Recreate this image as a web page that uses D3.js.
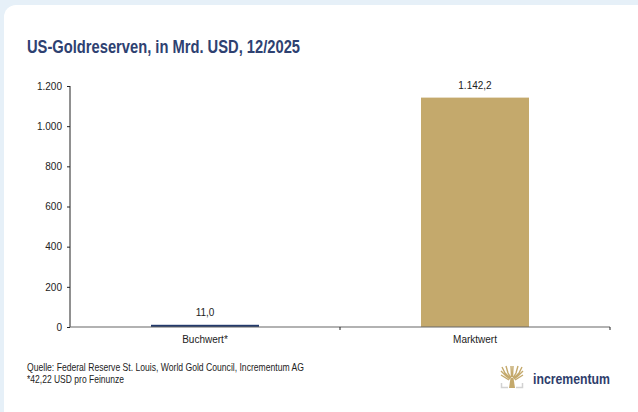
<!DOCTYPE html>
<html lang="en">
<head>
    <meta charset="utf-8">
    <script src="https://d3js.org/d3.v7.min.js"></script>
    <style>
        body { margin: 0; background: #e6f0f8; }
        text { font-family: "Liberation Sans", Arial, sans-serif; }
    </style>
</head>
<body>
    <script>
        // data
        var categories = ["Buchwert*", "Marktwert"];
        var values = [11.0, 1142.2];
        var valueLabels = ["11,0", "1.142,2"];
        var yTicks = [0, 200, 400, 600, 800, 1000, 1200];
        var yTickLabels = ["0", "200", "400", "600", "800", "1.000", "1.200"];
        var barColors = ["#233a6c", "#c4a96c"];

        const width = 638, height = 412;
        const svg = d3.select("body").append("svg")
            .attr("width", width)
            .attr("height", height);

        // white card
        svg.append("rect")
            .attr("x", 4).attr("y", 5)
            .attr("width", 660).attr("height", 430)
            .attr("rx", 12)
            .attr("fill", "#ffffff");

        // title (condensed look via textLength)
        svg.append("text")
            .attr("x", 27).attr("y", 52.5)
            .attr("font-size", 18.5)
            .attr("font-weight", "bold")
            .attr("fill", "#2e4171")
            .attr("textLength", 273)
            .attr("lengthAdjust", "spacingAndGlyphs")
            .text("US-Goldreserven, in Mrd. USD, 12/2025");

        const x = d3.scaleBand().domain(categories).range([70, 610]).paddingInner(0.6).paddingOuter(0.3);
        const y = d3.scaleLinear().domain([0, 1200]).range([327, 86]);

        // bars
        svg.selectAll(".bar")
            .data(values)
            .enter()
            .append("rect")
            .attr("class", "bar")
            .attr("x", function(d, i) { return x(categories[i]); })
            .attr("y", function(d) { return y(d); })
            .attr("width", x.bandwidth())
            .attr("height", function(d) { return y(0) - y(d); })
            .attr("fill", function(d, i) { return barColors[i]; });

        // value labels
        svg.selectAll(".vlab")
            .data(values)
            .enter()
            .append("text")
            .attr("x", function(d, i) { return x(categories[i]) + x.bandwidth() / 2; })
            .attr("y", function(d) { return y(d) - 9; })
            .attr("text-anchor", "middle")
            .attr("font-size", 10)
            .attr("fill", "#222")
            .text(function(d, i) { return valueLabels[i]; });

        // y axis
        const yAxis = svg.append("g")
            .attr("transform", "translate(70,0)")
            .call(d3.axisLeft(y).tickValues(yTicks).tickSize(3).tickPadding(5)
                .tickFormat(function(d, i) { return yTickLabels[i]; }));
        yAxis.select(".domain").attr("stroke", "#222").attr("d", "M0,86V327");
        yAxis.selectAll(".tick line").attr("stroke", "#222");
        yAxis.selectAll("text").attr("font-size", 10).attr("fill", "#222")
            .attr("font-family", "'Liberation Sans', Arial, sans-serif");

        // x axis (ticks between categories)
        const xAxisG = svg.append("g").attr("transform", "translate(0,327)");
        xAxisG.append("line").attr("x1", 70).attr("x2", 610).attr("stroke", "#666").attr("stroke-width", 1.2);
        [340, 610].forEach(function(px) {
            xAxisG.append("line").attr("x1", px).attr("x2", px).attr("y1", 0).attr("y2", 3).attr("stroke", "#222");
        });
        xAxisG.selectAll(".xlab")
            .data(categories)
            .enter()
            .append("text")
            .attr("x", function(d) { return x(d) + x.bandwidth() / 2; })
            .attr("y", 16)
            .attr("text-anchor", "middle")
            .attr("font-size", 10)
            .attr("fill", "#222")
            .text(function(d) { return d; });

        // footnotes
        const foot = svg.append("g")
            .attr("font-size", 10.5)
            .attr("fill", "#222");
        foot.append("text").attr("x", 27).attr("y", 371)
            .attr("textLength", 277).attr("lengthAdjust", "spacingAndGlyphs")
            .text("Quelle: Federal Reserve St. Louis, World Gold Council, Incrementum AG");
        foot.append("text").attr("x", 27).attr("y", 383)
            .attr("textLength", 97).attr("lengthAdjust", "spacingAndGlyphs")
            .text("*42,22 USD pro Feinunze");

        // logo
        const logo = svg.append("g").attr("transform", "translate(501,366)");
        logo.append("path")
            .attr("d", "M0.5,17 V21.5 H7 M21.5,17 V21.5 H15")
            .attr("fill", "none").attr("stroke", "#d2d2d2").attr("stroke-width", 1.5);
        logo.append("path")
            .attr("d", "M1,1 L4,7 L9,12 M0,5 L5,10 L9,13 M5,0 L7,7 L10,12 M10,0 L10.5,11 M12,0 L11.5,11 M17,0 L15,7 L12,12 M21,1 L18,7 L13,12 M22,5 L17,10 L13,13 M0,9 L8,14 M22,9 L14,14")
            .attr("fill", "none").attr("stroke", "#c4a96c").attr("stroke-width", 1.4);
        logo.append("path")
            .attr("d", "M8,22 L9.5,12 H12.5 L14,22 Z")
            .attr("fill", "#c4a96c");
        svg.append("text")
            .attr("x", 533).attr("y", 384)
            .attr("font-size", 14)
            .attr("font-weight", "bold")
            .attr("fill", "#2e3d6b")
            .attr("textLength", 77)
            .attr("lengthAdjust", "spacingAndGlyphs")
            .text("incrementum");
    </script>
</body>
</html>
